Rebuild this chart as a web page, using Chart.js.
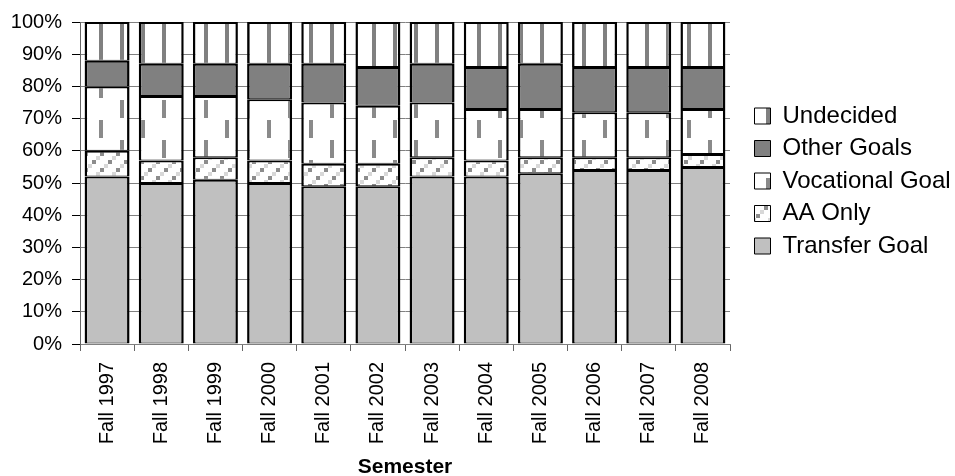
<!DOCTYPE html>
<html><head><meta charset="utf-8">
<script src="https://cdn.jsdelivr.net/npm/chart.js@4/dist/chart.umd.min.js"></script>
<style>html,body{margin:0;padding:0;background:#fff}</style>
</head><body>
<canvas id="c" width="955" height="476"></canvas>
<script>
const categories = ['Fall 1997','Fall 1998','Fall 1999','Fall 2000','Fall 2001','Fall 2002','Fall 2003','Fall 2004','Fall 2005','Fall 2006','Fall 2007','Fall 2008'];
const transferGoal   = [52,50,51,50,49,49,52,52,53,54,54,55];
const aaOnly         = [8,7,7,7,7,7,6,5,5,4,4,4];
const vocationalGoal = [20,20,19,19,19,18,17,16,15,14,14,14];
const otherGoals     = [8,10,10,11,12,12,12,13,14,14,14,13];
const undecided      = [12,13,13,13,13,14,13,14,13,14,14,14];
const yTicks = [0,10,20,30,40,50,60,70,80,90,100];
const axisTitle = 'Semester';

const FONT = "'Liberation Sans', Arial, sans-serif";

function makePattern(w, h, draw) {
  const cv = document.createElement('canvas');
  cv.width = w; cv.height = h;
  const g = cv.getContext('2d');
  g.fillStyle = '#fff'; g.fillRect(0, 0, w, h);
  draw(g);
  return document.getElementById('c').getContext('2d').createPattern(cv, 'repeat');
}
const stripePat = makePattern(21, 8, g => { g.fillStyle = '#808080'; g.fillRect(15, 0, 4, 8); });
const dashPat = makePattern(42, 40, g => {
  g.fillStyle = '#8a8a8a';
  g.fillRect(15, 0, 4, 18);
  g.fillRect(36, 20, 4, 18);
});
const diagPat = makePattern(16, 16, g => {
  g.fillStyle = '#8c8c8c';
  g.fillRect(12, 0, 4, 4);
  g.fillRect(4, 8, 4, 4);
  g.fillStyle = '#d8d8d8';
  g.fillRect(8, 4, 4, 4);
  g.fillRect(0, 12, 4, 4);
});

const ds = (label, data, bg) => ({label, data, backgroundColor: bg, borderColor: '#000', borderWidth: {top: 2, bottom: 1, left: 2.5, right: 2.5}, borderSkipped: false, categoryPercentage: 1, barPercentage: 0.83});

// keep legend width fixed and shift its items right (layout only)
const legendPlacement = {
  id: 'legendPlacement',
  beforeLayout(chart) {
    const lg = chart.legend;
    if (!lg || lg._fixed) return;
    lg._fixed = true;
    const fit = lg.fit.bind(lg);
    lg.fit = function () { fit(); this.width = 225; };
    const draw = lg.draw.bind(lg);
    lg.draw = function () {
      const c = this.ctx; c.save(); c.translate(16, -2); draw(); c.restore();
    };
  }
};

new Chart(document.getElementById('c'), {
  type: 'bar',
  data: {
    labels: categories,
    datasets: [
      ds('Transfer Goal', transferGoal, '#c0c0c0'),
      ds('AA Only', aaOnly, diagPat),
      ds('Vocational Goal', vocationalGoal, dashPat),
      ds('Other Goals', otherGoals, '#808080'),
      ds('Undecided', undecided, stripePat)
    ]
  },
  plugins: [legendPlacement],
  options: {
    responsive: false,
    devicePixelRatio: 1,
    animation: false,
    layout: {padding: {top: 21, left: 0, right: 0, bottom: 0}},
    plugins: {
      tooltip: {enabled: false},
      legend: {
        position: 'right',
        fullSize: false,
        reverse: true,
        labels: {
          boxWidth: 16, boxHeight: 16, padding: 8.5, color: '#000',
          font: {family: FONT, size: 24},
          generateLabels: chart => Chart.defaults.plugins.legend.labels.generateLabels(chart).map(l => Object.assign(l, {lineWidth: 1}))
        }
      }
    },
    scales: {
      x: {
        stacked: true,
        grid: {display: true, drawOnChartArea: false, drawTicks: true, tickLength: 7, tickColor: '#666', offset: true},
        border: {color: '#808080', width: 1},
        ticks: {minRotation: 90, maxRotation: 90, autoSkip: false, padding: 11, color: '#000', font: {family: FONT, size: 20}},
        title: {display: true, text: axisTitle, color: '#000', font: {family: FONT, size: 21, weight: 'bold'}, padding: {top: 0, bottom: -4}},
        afterFit: s => { s.height = 132; }
      },
      y: {
        stacked: true,
        min: 0, max: 100,
        afterBuildTicks: s => { s.ticks = yTicks.map(v => ({value: v})); },
        grid: {color: '#808080', lineWidth: 1, drawTicks: true, tickLength: 8, tickColor: '#000'},
        border: {color: '#666', width: 1},
        ticks: {padding: 10, color: '#000', callback: v => v + '%', font: {family: FONT, size: 20}},
        afterFit: s => { s.width = 80; }
      }
    }
  }
});
</script>
</body></html>
